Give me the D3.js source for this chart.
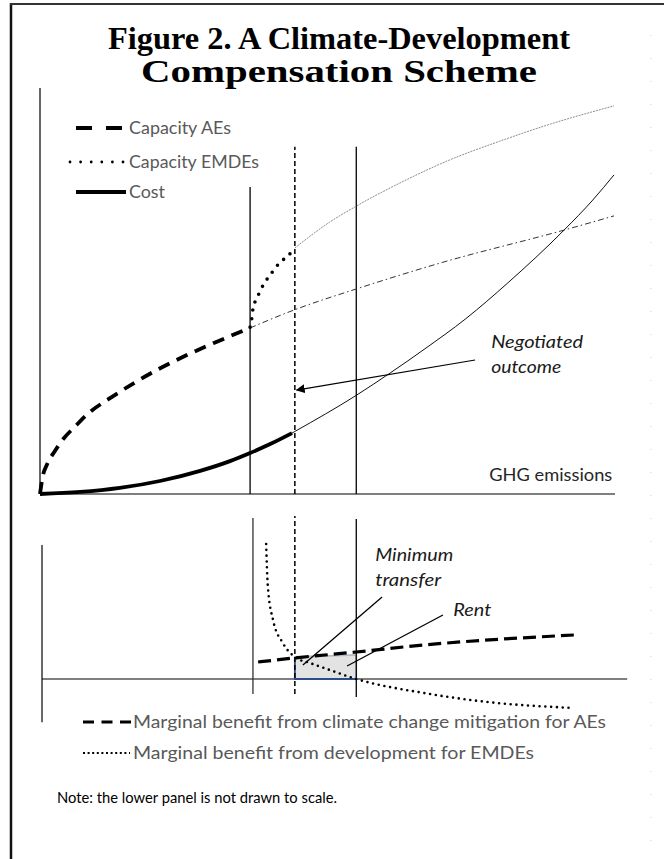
<!DOCTYPE html>
<html><head><meta charset="utf-8">
<script src="https://cdn.jsdelivr.net/npm/d3@7"></script>
<style>body{margin:0;background:#fff} svg{display:block}</style>
</head><body>
<svg id="c" width="664" height="859"></svg>
<script>
// ---------------- data ----------------
const titleLines = ["Figure 2. A Climate-Development", "Compensation Scheme"];
const topLegend = ["Capacity AEs", "Capacity EMDEs", "Cost"];
const bottomLegend = ["Marginal benefit from climate change mitigation for AEs", "Marginal benefit from development for EMDEs"];
const noteText = "Note: the lower panel is not drawn to scale.";
const xAxisLabel = "GHG emissions";
const outcomeLabel = ["Negotiated", "outcome"];
const transferLabel = ["Minimum", "transfer"];
const rentLabel = "Rent";

// upper panel (x: GHG emissions 0-100, y: 0-100)
const capacityAEs = [[0,0],[0.5,4.5],[1.2,7.2],[2.6,10.6],[4.2,13.8],[6.1,16.6],[8.2,19.6],[12.2,23.6],[16.7,27.6],[21.1,31.1],[25.4,34.1],[30.3,37.2],[36.6,40.9]];
const capacityAEsExt = [[36.6,40.9],[44.4,45.4],[55.1,50.5],[70,57.0],[91.3,65.0],[100,68.5]];
const capacityEMDEs = [[36.6,41.1],[36.9,43.3],[37.1,45.6],[37.5,47.5],[38.2,49.5],[38.9,51.5],[39.7,53.2],[40.6,54.9],[41.6,56.7],[42.7,58.1],[43.7,59.4],[44.4,60.6]];
const capacityEMDEsExt = [[44.4,60.6],[50.5,67.0],[55.1,70.9],[62.7,76.6],[71.4,82.3],[80.1,86.9],[88.9,91.1],[100,95.6]];
const cost = [[0,0],[7.0,0.5],[13.9,1.5],[20.9,3.2],[27.9,5.7],[33.1,8.1],[36.6,10.1],[40.1,12.3],[43.9,15.0]];
const costExt = [[43.9,15.0],[44.4,15.4],[55.1,24.3],[61.0,29.8],[66.9,35.6],[74.2,43.2],[81.5,52.0],[91.3,65.0],[96.3,72.4],[100,78.6]];
const emdeThreshold = 36.6, negotiated = 44.4, aeOptimum = 55.1;
const topVerticalTops = [75.6, 85.5, 85.5];
const outcomeArrow = [[75.8,33.0],[44.7,25.6]];
const outcomeLabelPos = [78.6, 36.0];
const xAxisLabelPos = [99.7, 3.2];

// lower panel (x shared, y: marginal benefit)
const mbAEs = [[38.0,12.6],[44.4,15.6],[55.1,20.0],[66.9,25.2],[93.0,32.6]];
const mbEMDEs = [[39.4,100],[39.7,68.1],[40.6,43.7],[42.3,26.7],[44.4,16.3],[47.0,11.9],[50.0,7.4],[55.1,0],[66.9,-10.4],[77.9,-17.0],[93.0,-21.5]];
const transferBox = [[44.4,0],[44.4,16.3],[55.1,17.8],[55.1,0]];
const bottomVerticalX = [37.1, 44.4, 55.1];
const bottomVerticalTop = [119.3, 120.7, 118.5];
const bottomVerticalBottom = [-11.1, -11.1, -13.3];
const bottomAxisX = [0.35, 102.3];
const bottomAxisY = [-32, 99.3];
const transferLeader = [[59.6,60.7],[45.8,10.4]];
const rentLeader = [[70.2,47.4],[53.5,9.6]];
const transferLabelPos = [58.4, 87.4, 68.9];
const rentLabelPos = [72.0, 46.7];

// ---------------- drawing ----------------
const svg = d3.select("#c");
const x = d3.scaleLinear().domain([0,100]).range([40,614]);
const y = d3.scaleLinear().domain([0,100]).range([494,88]);
const by = d3.scaleLinear().domain([0,100]).range([679,544]);

const lineTop = d3.line().x(d=>x(d[0])).y(d=>y(d[1])).curve(d3.curveMonotoneX);
const lineBot = d3.line().x(d=>x(d[0])).y(d=>by(d[1])).curve(d3.curveMonotoneX);

// frame
svg.append("line").attr("x1",11).attr("x2",11).attr("y1",3).attr("y2",859).attr("stroke","#111").attr("stroke-width",2.5);
svg.append("line").attr("x1",10).attr("x2",664).attr("y1",4).attr("y2",4).attr("stroke","#333").attr("stroke-width",2);
svg.append("line").attr("x1",651).attr("x2",651).attr("y1",35).attr("y2",859).attr("stroke","#d0d0d0").attr("stroke-width",1).attr("stroke-dasharray","1,22");

// title
const tw = [462, 396];
titleLines.forEach((t,i)=>{
  svg.append("text").attr("x",339).attr("y",49+i*33).attr("text-anchor","middle")
    .attr("font-family","Liberation Serif, Times New Roman, serif").attr("font-weight","bold")
    .attr("font-size",32).attr("fill","#000")
    .attr("textLength",tw[i]).attr("lengthAdjust","spacingAndGlyphs").text(t);
});

// top axes
svg.append("line").attr("x1",x(0)).attr("x2",x(0)).attr("y1",y(0)).attr("y2",y(100)).attr("stroke","#000").attr("stroke-width",1.2);
svg.append("line").attr("x1",x(0)).attr("x2",x(100)+1).attr("y1",y(0)).attr("y2",y(0)).attr("stroke","#000").attr("stroke-width",1.2);

// top verticals
[emdeThreshold, negotiated, aeOptimum].forEach((v,i)=>{
  svg.append("line").attr("x1",x(v)).attr("x2",x(v)).attr("y1",y(0)).attr("y2",y(topVerticalTops[i]))
    .attr("stroke","#000").attr("stroke-width",i===1?1.5:1.3)
    .attr("stroke-dasharray",i===1?"5,3":null);
});

// extensions (thin)
svg.append("path").attr("d",lineTop(capacityEMDEsExt)).attr("fill","none").attr("stroke","#8c8c8c").attr("stroke-width",1).attr("stroke-dasharray","2,1");
svg.append("path").attr("d",lineTop(capacityAEsExt)).attr("fill","none").attr("stroke","#333").attr("stroke-width",1).attr("stroke-dasharray","6,3,1.5,3");
svg.append("path").attr("d",lineTop(costExt)).attr("fill","none").attr("stroke","#111").attr("stroke-width",1);

// thick curves
svg.append("path").attr("d",lineTop(capacityAEs)).attr("fill","none").attr("stroke","#000").attr("stroke-width",3.8).attr("stroke-dasharray","12,8");
svg.append("path").attr("d",lineTop(capacityEMDEs)).attr("fill","none").attr("stroke","#000").attr("stroke-width",3.6).attr("stroke-linecap","round").attr("stroke-dasharray","0,8.6");
svg.append("path").attr("d",lineTop(cost)).attr("fill","none").attr("stroke","#000").attr("stroke-width",3.8);

// arrow
svg.append("defs").append("marker").attr("id","ah").attr("viewBox","0 0 10 10").attr("refX",9).attr("refY",5)
  .attr("markerWidth",9).attr("markerHeight",9).attr("markerUnits","userSpaceOnUse").attr("orient","auto")
  .append("path").attr("d","M0,0L10,5L0,10Z").attr("fill","#000");
svg.append("line").attr("x1",x(outcomeArrow[0][0])).attr("y1",y(outcomeArrow[0][1]))
  .attr("x2",x(outcomeArrow[1][0])).attr("y2",y(outcomeArrow[1][1]))
  .attr("stroke","#000").attr("stroke-width",1.2).attr("marker-end","url(#ah)");

const sans = "Lato, Carlito, Calibri, sans-serif";
function txt(s, px, py, w, opt={}) {
  return svg.append("text").attr("x",px).attr("y",py).attr("font-family",sans)
    .attr("font-size",opt.size||17).attr("fill",opt.fill||"#595959")
    .attr("font-style",opt.italic?"italic":null).attr("text-anchor",opt.anchor||"start")
    .attr("textLength",w).attr("lengthAdjust","spacingAndGlyphs").text(s);
}
txt(outcomeLabel[0], x(outcomeLabelPos[0]), y(outcomeLabelPos[1]), 92, {italic:true, fill:"#1a1a1a", size:18});
txt(outcomeLabel[1], x(outcomeLabelPos[0]), y(outcomeLabelPos[1])+25, 70, {italic:true, fill:"#1a1a1a", size:18});
txt(xAxisLabel, x(xAxisLabelPos[0]), y(xAxisLabelPos[1]), 123, {anchor:"end", fill:"#262626", size:18});

// top legend
const lgY = [128, 162, 192];
const lgW = [102, 130, 36];
svg.append("line").attr("x1",76).attr("x2",123).attr("y1",lgY[0]).attr("y2",lgY[0]).attr("stroke","#000").attr("stroke-width",4).attr("stroke-dasharray","16,14");
svg.append("line").attr("x1",70).attr("x2",124).attr("y1",lgY[1]).attr("y2",lgY[1]).attr("stroke","#000").attr("stroke-width",2.8).attr("stroke-linecap","round").attr("stroke-dasharray","0,10.6");
svg.append("line").attr("x1",76).attr("x2",126).attr("y1",lgY[2]).attr("y2",lgY[2]).attr("stroke","#000").attr("stroke-width",4);
topLegend.forEach((t,i)=> txt(t, 129, lgY[i]+6, lgW[i]));

// bottom panel axes
svg.append("line").attr("x1",x(bottomAxisX[0])).attr("x2",x(bottomAxisX[0])).attr("y1",by(bottomAxisY[0])).attr("y2",by(bottomAxisY[1])).attr("stroke","#444").attr("stroke-width",1.6);
svg.append("line").attr("x1",x(bottomAxisX[0])).attr("x2",x(bottomAxisX[1])).attr("y1",by(0)).attr("y2",by(0)).attr("stroke","#000").attr("stroke-width",1.2);

// transfer box
svg.append("path").attr("d","M"+transferBox.map(d=>[x(d[0]),by(d[1])].join(",")).join("L")+"Z")
  .attr("fill","#e3e3e3").attr("stroke","#b3bccb").attr("stroke-width",1.8);
svg.append("path").attr("d",d3.line().x(d=>x(d[0])).y(d=>by(d[1]))([transferBox[1],transferBox[0],transferBox[3]]))
  .attr("fill","none").attr("stroke","#2f4d8c").attr("stroke-width",1.8);

// bottom verticals
bottomVerticalX.forEach((v,i)=>{
  svg.append("line").attr("x1",x(v)).attr("x2",x(v)).attr("y1",by(bottomVerticalBottom[i])).attr("y2",by(bottomVerticalTop[i]))
    .attr("stroke",i===0?"#333":"#000").attr("stroke-width",i===1?1.5:1.3)
    .attr("stroke-dasharray",i===1?"5,3":null);
});

// bottom curves
svg.append("path").attr("d",lineBot(mbEMDEs)).attr("fill","none").attr("stroke","#000").attr("stroke-width",2.6).attr("stroke-linecap","round").attr("stroke-dasharray","0,5.8");
svg.append("path").attr("d",lineBot(mbAEs)).attr("fill","none").attr("stroke","#000").attr("stroke-width",3.2).attr("stroke-dasharray","13,6");

// leaders
[transferLeader, rentLeader].forEach(l=>{
  svg.append("line").attr("x1",x(l[0][0])).attr("y1",by(l[0][1])).attr("x2",x(l[1][0])).attr("y2",by(l[1][1]))
    .attr("stroke","#000").attr("stroke-width",1.3);
});
txt(transferLabel[0], x(transferLabelPos[0]), by(transferLabelPos[1]), 78, {italic:true, fill:"#1a1a1a", size:17});
txt(transferLabel[1], x(transferLabelPos[0]), by(transferLabelPos[2]), 66, {italic:true, fill:"#1a1a1a", size:17});
txt(rentLabel, x(rentLabelPos[0]), by(rentLabelPos[1]), 38, {italic:true, fill:"#1a1a1a", size:17});

// bottom legend
const blY = [722, 753];
svg.append("line").attr("x1",83).attr("x2",131).attr("y1",blY[0]).attr("y2",blY[0]).attr("stroke","#000").attr("stroke-width",3).attr("stroke-dasharray","11,7.5");
svg.append("line").attr("x1",83).attr("x2",130).attr("y1",blY[1]).attr("y2",blY[1]).attr("stroke","#000").attr("stroke-width",2).attr("stroke-dasharray","2,2.6");
txt(bottomLegend[0], 133, blY[0]+6, 473);
txt(bottomLegend[1], 133, blY[1]+6, 401);
txt(noteText, 57, 803, 280, {fill:"#000", size:16});
</script>
</body></html>
